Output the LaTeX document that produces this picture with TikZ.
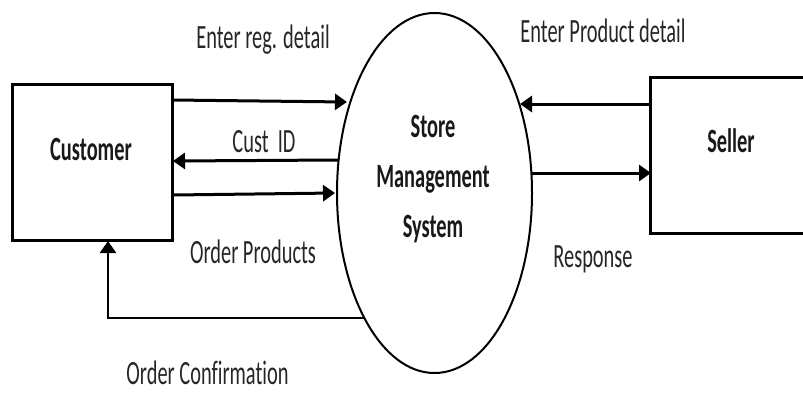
\documentclass[tikz,border=0pt]{standalone}
\usepackage{fontspec}
\setmainfont{Carlito}[Ligatures=NoCommon]
\usetikzlibrary{arrows.meta,shapes.geometric}
\newcommand\sqz[1]{\scalebox{0.6}[1]{#1}}
\begin{document}
\begin{tikzpicture}[x=1pt,y=-1pt,
  lbl/.style={font=\fontsize{34}{40}\selectfont, text=black!85, inner sep=0pt, anchor=base},
  blbl/.style={font=\fontsize{34}{40}\selectfont\bfseries, text=black!90, inner sep=0pt, anchor=base},
  flow/.style={line width=3pt, -{Triangle[length=12pt,width=16pt]}},
  boxline/.style={line width=3pt}
]
\useasboundingbox (0,0) rectangle (803,392);
% entities
\node[draw, boxline, minimum width=160pt, minimum height=156pt, inner sep=0pt] (customer) at (92,162.5) {};
\node[ellipse, draw, line width=2pt, minimum width=195pt, minimum height=360pt, inner sep=0pt] (sms) at (434.5,193) {};
\node[minimum width=152pt, minimum height=156pt, inner sep=0pt] (seller) at (727,155.5) {};
\draw[boxline] (seller.north east) -- (seller.north west) -- (seller.south west) -- (seller.south east);
% entity labels
\node[blbl] (custtxt) at (91,160) {\sqz{Customer}};
\node[blbl] (sellertxt) at (731,152) {\sqz{Seller}};
\node[blbl] (smstxt1) at (433,137) {\sqz{Store}};
\node[blbl] (smstxt2) at (433,187) {\sqz{Management}};
\node[blbl] (smstxt3) at (433,237) {\sqz{System}};
% connector end points
\coordinate (c1s) at (173,100);
\coordinate (c1e) at (347,102);
\coordinate (c2s) at (338,160);
\coordinate (c2e) at (173,161);
\coordinate (c3s) at (173,195);
\coordinate (c3e) at (335,193);
\coordinate (c4s) at (364,318);
\coordinate (c4m) at (108,318);
\coordinate (c4e) at (108,241);
\coordinate (c5s) at (651,104);
\coordinate (c5e) at (520,104);
\coordinate (c6s) at (532,173);
\coordinate (c6e) at (651,173);
% flows
\draw[flow] (c1s) -- (c1e);
\draw[flow] (c2s) -- (c2e);
\draw[flow] (c3s) -- (c3e);
\draw[flow, line width=2.5pt] (c4s) -- (c4m) -- (c4e);
\draw[flow] (c5s) -- (c5e);
\draw[flow] (c6s) -- (c6e);
% flow labels
\node[lbl] (l1) at (263,48) {\sqz{Enter reg. detail}};
\node[lbl] (l2) at (264,152) {\sqz{Cust\ \ ID}};
\node[lbl] (l3) at (253,263) {\sqz{Order Products}};
\node[lbl] (l4) at (207.5,384) {\sqz{Order Confirmation}};
\node[lbl] (l5) at (603,42) {\sqz{Enter Product detail}};
\node[lbl] (l6) at (593,267) {\sqz{Response}};
\end{tikzpicture}
\end{document}
